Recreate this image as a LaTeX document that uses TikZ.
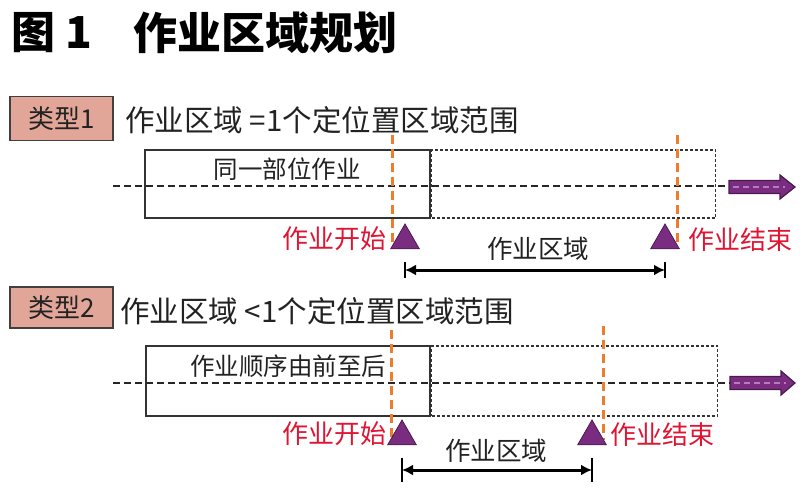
\documentclass[tikz,border=0pt]{standalone}
\usepackage{fontspec}
\usepackage{tikz}
\usetikzlibrary{positioning,shapes.geometric,arrows.meta}
\newfontfamily\cjk{Noto Sans CJK SC}
\definecolor{typefill}{HTML}{E2A699}
\definecolor{textgray}{HTML}{222222}
\definecolor{startred}{HTML}{DF1533}
\definecolor{markorange}{HTML}{EE7D2B}
\definecolor{flowpurple}{HTML}{7A2D80}
\definecolor{flowdark}{HTML}{4A1A4F}
\definecolor{flowlight}{HTML}{B57CBD}

\begin{document}
\begin{tikzpicture}[x=1pt,y=-1pt,
typelabel/.style={draw=black!75, line width=1.5pt, fill=typefill, minimum width=103pt, minimum height=44pt, inner sep=0pt, text=textgray, font=\cjk\fontsize{26}{26}\selectfont},
headtext/.style={anchor=west, inner sep=0pt, text=textgray, font=\cjk\fontsize{29.5}{29.5}\selectfont},
workbox/.style={draw=black!80, line width=1.6pt, inner sep=0pt, minimum height=68pt},
rangebox/.style={draw=black!80, line width=1.4pt, dash pattern=on 3pt off 2pt, inner sep=0pt, minimum height=68pt},
boxtext/.style={inner sep=0pt, text=textgray, font=\cjk\fontsize{24.5}{24.5}\selectfont},
centerline/.style={draw=black!85, line width=2.6pt, dash pattern=on 7pt off 4pt},
marker/.style={draw=markorange, line width=3pt, dash pattern=on 9pt off 5pt},
tri/.style={regular polygon, regular polygon sides=3, fill=flowpurple, draw=flowdark, line width=0.8pt, minimum size=33pt, inner sep=0pt},
redtext/.style={inner sep=0pt, text=startred, font=\cjk\fontsize{26}{26}\selectfont},
zonetext/.style={inner sep=0pt, text=textgray, font=\cjk\fontsize{25.5}{25.5}\selectfont},
zonearrow/.style={draw=black, line width=3pt, {Latex[length=11pt,width=11pt]}-{Latex[length=11pt,width=11pt]}},
tick/.style={draw=black, line width=1.8pt},
flowarrow/.style={fill=flowpurple, draw=flowdark, line width=1.2pt, line join=miter},
innerdash/.style={draw=flowlight, line width=1.5pt, dash pattern=on 6pt off 4pt},
]
\useasboundingbox (0,0) rectangle (800,488);

%Title
\node[anchor=west, inner sep=0pt, font=\cjk\bfseries\fontsize{44}{44}\selectfont] (fignum) at (11,33) {图 1};
\node[anchor=west, inner sep=0pt, font=\cjk\bfseries\fontsize{44}{44}\selectfont] (figtitle) at (133,33) {作业区域规划};

%Type 1
\node[typelabel] (type1) at (61.5,118.5) {类型1};
\node[headtext] (head1) at (125,120) {作业区域 =1个定位置区域范围};
\node[workbox, minimum width=285pt] (box1) at (287.5,184) {};
\node[rangebox, minimum width=284pt, right=0pt of box1] (range1) {};
\node[boxtext] (text1) at (287,169) {同一部位作业};
\coordinate (flow1) at (729,187);
\draw[flowarrow] (flow1) ++(0,-6.5) -- ++(51,0) -- ++(0,-5.5) -- ++(15,12) -- ++(-15,12) -- ++(0,-5.5) -- ++(-51,0) -- cycle;
\coordinate (line1) at (113,186);
\draw[centerline] (line1) -- (line1 -| flow1);
\draw[innerdash] (flow1) ++(4,0) -- ++(52,0);

\coordinate (mark1a) at (392,135);
\coordinate (mark1b) at (677,135);
\draw[marker] (mark1a) -- ++(0,112);
\draw[marker] (mark1b) -- ++(0,110);
\node[tri] (start1) at (405,240.5) {};
\node[tri] (end1) at (665,240.5) {};
\node[redtext, anchor=east] (starttext1) at (387,239) {作业开始};
\node[redtext, anchor=west] (endtext1) at (688,240) {作业结束};
\node[zonetext] (zone1) at (538,249) {作业区域};
\coordinate (dim1) at (0,270);
\draw[zonearrow] (start1.north |- dim1) -- (end1.north |- dim1);
\draw[tick] (start1.north |- dim1) ++(0,-8) -- ++(0,16);
\draw[tick] (end1.north |- dim1) ++(0,-8) -- ++(0,16);

%Type 2
\node[typelabel, minimum height=41pt] (type2) at (61.5,307.5) {类型2};
\node[headtext] (head2) at (120,311) {作业区域 <1个定位置区域范围};
\node[workbox, minimum width=284pt, minimum height=70pt] (box2) at (288,381) {};
\node[rangebox, minimum width=286pt, minimum height=70pt, right=0pt of box2] (range2) {};
\node[boxtext] (text2) at (288,366) {作业顺序由前至后};
\coordinate (flow2) at (730,383);
\draw[flowarrow] (flow2) ++(0,-6.5) -- ++(51,0) -- ++(0,-5.5) -- ++(14,12) -- ++(-14,12) -- ++(0,-5.5) -- ++(-51,0) -- cycle;
\coordinate (line2) at (113,383);
\draw[centerline] (line2) -- (line2 -| flow2);
\draw[innerdash] (flow2) ++(4,0) -- ++(52,0);

\coordinate (mark2a) at (391,330);
\coordinate (mark2b) at (603,326);
\draw[marker] (mark2a) -- ++(0,114);
\draw[marker] (mark2b) -- ++(0,114);
\node[tri] (start2) at (402,436.5) {};
\node[tri] (end2) at (592,436.5) {};
\node[redtext, anchor=east] (starttext2) at (387,434) {作业开始};
\node[redtext, anchor=west] (endtext2) at (610,435) {作业结束};
\node[zonetext] (zone2) at (496,451) {作业区域};
\coordinate (dim2) at (0,470);
\draw[zonearrow] (start2.north |- dim2) -- (end2.north |- dim2);
\draw[tick] (start2.north |- dim2) ++(0,-12) -- ++(0,24);
\draw[tick] (end2.north |- dim2) ++(0,-12) -- ++(0,24);
\end{tikzpicture}
\end{document}
